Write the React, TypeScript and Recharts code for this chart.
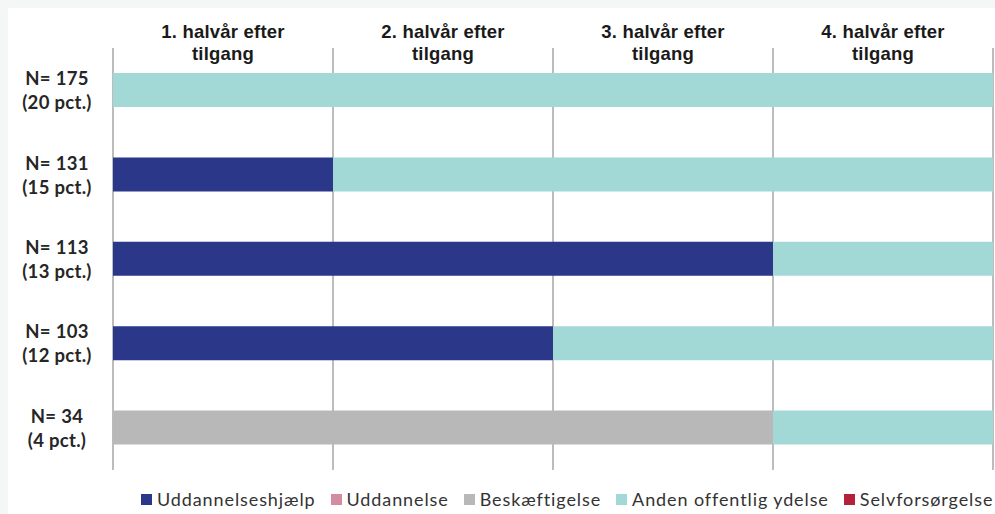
import { BarChart, Bar, XAxis, YAxis, CartesianGrid, Legend } from 'recharts';

const rowLabels = [
  ['N= 175', '(20 pct.)'],
  ['N= 131', '(15 pct.)'],
  ['N= 113', '(13 pct.)'],
  ['N= 103', '(12 pct.)'],
  ['N= 34', '(4 pct.)'],
];
const periodLabels = [
  '1. halvår efter',
  '2. halvår efter',
  '3. halvår efter',
  '4. halvår efter',
];
// number of half-years spent in each state, per row
const uddannelseshjaelp = [0, 1, 3, 2, 0];
const uddannelse = [0, 0, 0, 0, 0];
const beskaeftigelse = [0, 0, 0, 0, 3];
const anden = [4, 3, 1, 2, 1];
const selvforsorgelse = [0, 0, 0, 0, 0];

const series = [
  { key: 'uddannelseshjaelp', name: 'Uddannelseshjælp', color: '#2b3788' },
  { key: 'uddannelse', name: 'Uddannelse', color: '#d48ca0' },
  { key: 'beskaeftigelse', name: 'Beskæftigelse', color: '#b8b8b8' },
  { key: 'anden', name: 'Anden offentlig ydelse', color: '#a2d9d6' },
  { key: 'selvforsorgelse', name: 'Selvforsørgelse', color: '#b3213a' },
];

const data = rowLabels.map((l, i) => ({
  row: i,
  uddannelseshjaelp: uddannelseshjaelp[i],
  uddannelse: uddannelse[i],
  beskaeftigelse: beskaeftigelse[i],
  anden: anden[i],
  selvforsorgelse: selvforsorgelse[i],
}));

// period labels sit halfway between grid lines
const TopTick = (props: any) => {
  const { x, payload } = props;
  const idx = payload.value;
  if (idx >= periodLabels.length) return <g />;
  const cx = x + 110;
  return (
    <g>
      <text x={cx} y={38} textAnchor='middle' fontFamily='Liberation Sans, Arial' fontWeight='bold' fontSize={18.5} letterSpacing={0.2} fill='#1a1a1a'>
        {periodLabels[idx]}
      </text>
      <text x={cx} y={60} textAnchor='middle' fontFamily='Liberation Sans, Arial' fontWeight='bold' fontSize={18.5} letterSpacing={0.2} fill='#1a1a1a'>
        tilgang
      </text>
    </g>
  );
};

const RowTick = (props: any) => {
  const { y, payload } = props;
  const lines = rowLabels[payload.value];
  return (
    <g>
      <text x={57} y={y - 12} textAnchor='middle' dominantBaseline='central' fontFamily='Lato' fontWeight='bold' fontSize={18.5} letterSpacing={0.3} fill='#262626'>
        {lines[0]}
      </text>
      <text x={57} y={y + 12} textAnchor='middle' dominantBaseline='central' fontFamily='Lato' fontWeight='bold' fontSize={18.5} letterSpacing={0.3} fill='#262626'>
        {lines[1]}
      </text>
    </g>
  );
};

const LegendContent = () => (
  <div style={{ display: 'flex', flexWrap: 'nowrap', whiteSpace: 'nowrap', paddingLeft: 141, paddingTop: 18, fontFamily: 'Lato', fontSize: 18, lineHeight: '22px', color: '#333', letterSpacing: 0.9 }}>
    {series.map((s) => (
      <div key={s.key} style={{ display: 'flex', alignItems: 'center', marginRight: 15, flexShrink: 0 }}>
        <span style={{ width: 11, height: 11, background: s.color, marginRight: 5, display: 'inline-block' }} />
        <span>{s.name}</span>
      </div>
    ))}
  </div>
);

const App = () => {
  return (
    <div style={{ width: 995, height: 514, background: '#f5f7f7', position: 'relative', overflow: 'hidden' }}>
      <style>{'body{margin:0;overflow:hidden}'}</style>
      <div style={{ position: 'absolute', left: 8, top: 8, width: 987, height: 506, background: '#fff' }} />
      <div style={{ position: 'absolute', left: 0, top: 0 }}>
        <BarChart
          width={995}
          height={514}
          data={data}
          layout='vertical'
          barSize={34}
          margin={{ top: 0, right: 2, left: 8, bottom: 2 }}
        >
          <CartesianGrid horizontal={false} stroke='#a6a6a6' strokeWidth={1.5} />
          <XAxis
            type='number'
            orientation='top'
            domain={[0, 4]}
            ticks={[0, 1, 2, 3, 4]}
            axisLine={false}
            tickLine={false}
            height={48}
            tick={<TopTick />}
            interval={0}
          />
          <YAxis
            type='category'
            dataKey='row'
            width={105}
            axisLine={false}
            tickLine={false}
            tick={<RowTick />}
            interval={0}
          />
          <Legend
            verticalAlign='bottom'
            content={<LegendContent />}
            height={42}
            wrapperStyle={{ overflow: 'visible', width: 995, left: 0 }}
          />
          {series.map((s) => (
            <Bar key={s.key} dataKey={s.key} name={s.name} stackId='a' fill={s.color} isAnimationActive={false} />
          ))}
        </BarChart>
      </div>
    </div>
  );
};

export default App;
